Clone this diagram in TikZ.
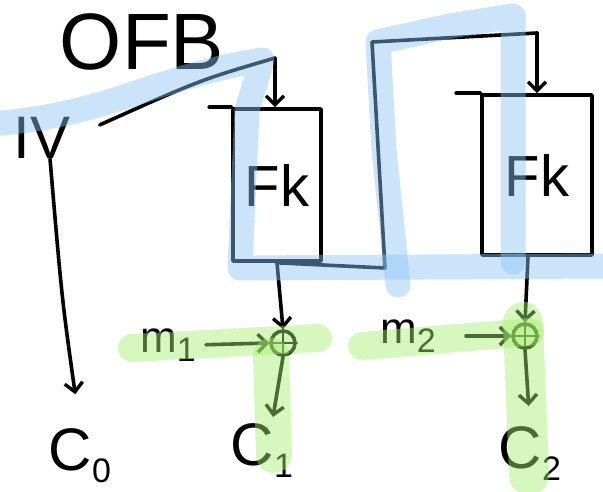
\documentclass[tikz,border=0pt]{standalone}
\usepackage{fontspec}
\setmainfont{Liberation Sans}
\usetikzlibrary{arrows.meta}
\definecolor{hlblue}{RGB}{140,195,245}
\definecolor{hlgreen}{RGB}{165,238,110}
\newcommand{\lowsub}[1]{\raisebox{-0.2em}{\fontsize{34}{34}\selectfont #1}}
\tikzset{
  ink/.style={line width=3.6pt, line cap=round, line join=round},
  arr/.style={ink, -{Straight Barb[length=9pt,width=18pt,line width=3.4pt]}},
  lbl/.style={inner sep=0pt, font=\fontsize{60}{60}\selectfont},
  clbl/.style={lbl, anchor=base},
  blockbox/.style={draw, ink, inner sep=0pt, font=\fontsize{58}{58}\selectfont},
  xorbox/.style={circle, draw, ink, minimum size=24pt, inner sep=0pt},
  hlb/.style={line width=25pt, draw=hlblue, opacity=0.45, line cap=round, line join=round},
  hlg/.style={line width=28pt, draw=hlgreen, opacity=0.45, line cap=round, line join=round}
}
\begin{document}
\begin{tikzpicture}[x=1pt,y=-1pt]
\useasboundingbox (0,0) rectangle (603,492);
% labels
\node[lbl, font=\fontsize{80}{80}\selectfont] (ofb) at (142,42) {OFB};
\node[lbl] (iv) at (42,138) {IV};
\node[clbl] (c0) at (80,470) {C\lowsub{0}};
\node[clbl] (c1) at (262,465) {C\lowsub{1}};
\node[clbl] (c2) at (530,468) {C\lowsub{2}};
\node[lbl, font=\fontsize{44}{44}\selectfont] (m1) at (168,345) {m\lowsub{1}};
\node[lbl, font=\fontsize{44}{44}\selectfont] (m2) at (408,336) {m\lowsub{2}};
% blocks
\node[blockbox, minimum width=88pt, minimum height=152pt] (b1) at (277,185) {Fk};
\node[blockbox, minimum width=110pt, minimum height=160pt] (b2) at (537,175) {Fk};
\draw[ink] (b1.north west) -- ++(-22,0);
\draw[ink] (b2.north west) -- ++(-24,0);
% xor
\node[xorbox] (x1) at (283,343) {};
\node[xorbox] (x2) at (525,336) {};
\draw[ink, line width=2.6pt] (x1.north) -- (x1.south) (x1.west) -- (x1.east);
\draw[ink, line width=2.6pt] (x2.north) -- (x2.south) (x2.west) -- (x2.east);
% coordinates
\coordinate (k1) at (275,58);
\coordinate (f1) at (385,268);
\coordinate (f2) at (372,42);
\coordinate (f3) at (537,33);
% connectors
\draw[arr, shorten >=34pt] ([xshift=8pt]iv.south) .. controls (62,300) .. (c0.north);
\draw[arr, shorten <=32pt] (iv.east) .. controls (200,80) .. (k1) -- (b1.north -| k1);
\draw[ink] (b1.south) -- (f1) -- (f2) -- (f3);
\draw[arr] (f3) -- (b2.north -| f3);
\draw[arr] (b1.south) -- (x1.north);
\draw[arr] ([xshift=-9pt]b2.south) -- (x2.north);
\draw[arr, shorten <=10pt] (m1.east) -- (x1.west);
\draw[arr, shorten <=30pt] (m2.east) -- (x2.west);
\draw[arr, shorten >=6pt] (x1.south) -- ([xshift=10pt]c1.north);
\draw[arr, shorten >=20pt] (x2.south) -- (c2.north);
% highlights
\draw[hlb] (-10,124) .. controls (110,115) and (150,78) .. (262,60) -- (247,110) -- (240,268) -- (610,266);
\draw[hlb] (398,285) -- (384,150) -- (378,42) -- (450,26) -- (513,16) -- (513,262);
\draw[hlg] (132,348) -- (318,338);
\draw[hlg, line width=36pt] (271,356) -- (274,455);
\draw[hlg] (362,346) -- (530,332);
\draw[hlg, line width=40pt] (523,322) -- (529,475);
\end{tikzpicture}
\end{document}
